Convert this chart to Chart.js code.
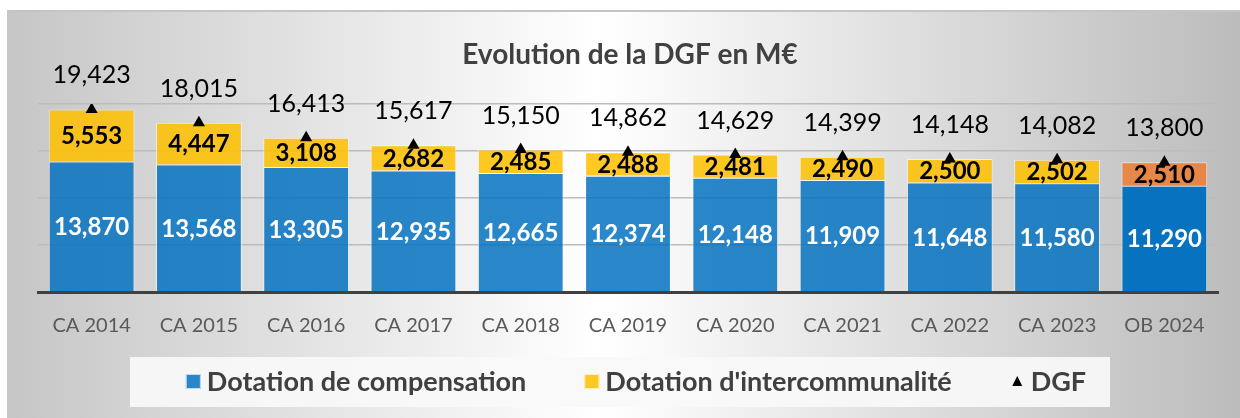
<!DOCTYPE html>
<html>
<head>
<meta charset="utf-8">
<script src="https://cdn.jsdelivr.net/npm/chart.js@4.4.1/dist/chart.umd.min.js"></script>
<style>
  html, body { margin: 0; padding: 0; background: #ffffff; }
  #wrap { width: 1240px; height: 418px; }
</style>
</head>
<body>
<div id="wrap"><canvas id="chart" width="1240" height="418"></canvas></div>
<script>
const categories = ['CA 2014', 'CA 2015', 'CA 2016', 'CA 2017', 'CA 2018', 'CA 2019', 'CA 2020', 'CA 2021', 'CA 2022', 'CA 2023', 'OB 2024'];
const compensation = [13870, 13568, 13305, 12935, 12665, 12374, 12148, 11909, 11648, 11580, 11290];
const intercommunalite = [5553, 4447, 3108, 2682, 2485, 2488, 2481, 2490, 2500, 2502, 2510];
const dgf = [19423, 18015, 16413, 15617, 15150, 14862, 14629, 14399, 14148, 14082, 13800];
const seriesNames = ['Dotation de compensation', "Dotation d'intercommunalité", 'DGF'];
const chartTitle = 'Evolution de la DGF en M€';

const FONT = 'Lato, "Open Sans", sans-serif';
const blue = categories.map((c, i) => i === categories.length - 1 ? 'rgba(0,112,192,0.97)' : 'rgba(0,112,192,0.84)');
const yellow = categories.map((c, i) => i === categories.length - 1 ? 'rgba(237,125,49,0.85)' : 'rgba(255,192,0,0.86)');

const fmt = v => v.toLocaleString('en-US');

// background panel + title + legend
const decor = {
    id: 'decor',
    beforeDraw(chart) {
        const ctx = chart.ctx;
        const w = chart.width, h = chart.height;
        ctx.save();
        ctx.fillStyle = '#ffffff';
        ctx.fillRect(0, 0, w, h);
        const g = ctx.createLinearGradient(7, 0, w, 0);
        g.addColorStop(0, '#c6c6c6');
        g.addColorStop(0.48, '#ffffff');
        g.addColorStop(1, '#bcbcbc');
        ctx.fillStyle = g;
        ctx.fillRect(7, 12, w - 7, h - 12);
        ctx.fillStyle = '#c4c4c4';
        ctx.fillRect(7, 10, w - 7, 2);

        ctx.fillStyle = '#404040';
        ctx.font = 'bold 28px ' + FONT;
        ctx.textAlign = 'center';
        ctx.textBaseline = 'middle';
        ctx.fillText(chartTitle, 630, 55);
        ctx.restore();
    },
    afterDraw(chart) {
        const ctx = chart.ctx;
        ctx.save();
        // legend box
        ctx.fillStyle = 'rgba(248,248,248,0.92)';
        ctx.fillRect(130, 357, 980, 50);
        ctx.font = 'bold 27px ' + FONT;
        ctx.textBaseline = 'middle';
        ctx.textAlign = 'left';
        const cy = 382;
        const items = [
            { text: seriesNames[0], kind: 'box', color: 'rgba(0,112,192,0.84)' },
            { text: seriesNames[1], kind: 'box', color: 'rgba(255,192,0,0.86)' },
            { text: seriesNames[2], kind: 'tri', color: '#000000' }
        ];
        const gap = 58, sym = 15, sp = 6;
        let total = 0;
        items.forEach((it, i) => {
            it.w = ctx.measureText(it.text).width;
            total += sym + sp + it.w + (i ? gap : 0);
        });
        let x = 636 - total / 2;
        items.forEach((it, i) => {
            if (i) x += gap;
            if (it.kind === 'box') {
                ctx.fillStyle = it.color;
                ctx.fillRect(x, cy - 8, sym, sym);
                ctx.strokeStyle = 'rgba(255,255,255,0.7)';
                ctx.lineWidth = 1;
                ctx.strokeRect(x + 0.5, cy - 7.5, sym - 1, sym - 1);
            } else {
                ctx.fillStyle = it.color;
                ctx.beginPath();
                ctx.moveTo(x + sym / 2, cy - 6);
                ctx.lineTo(x + sym / 2 + 5, cy + 4);
                ctx.lineTo(x + sym / 2 - 5, cy + 4);
                ctx.closePath();
                ctx.fill();
            }
            x += sym + sp;
            ctx.fillStyle = '#404040';
            ctx.fillText(it.text, x, cy);
            x += it.w;
        });
        ctx.restore();
    }
};

// value labels
const valueLabels = {
    id: 'valueLabels',
    afterDatasetsDraw(chart) {
        const ctx = chart.ctx;
        ctx.save();
        ctx.textAlign = 'center';
        ctx.textBaseline = 'middle';
        chart.data.datasets.forEach((ds, di) => {
            const meta = chart.getDatasetMeta(di);
            meta.data.forEach((el, i) => {
                const v = ds.data[i];
                if (ds.type === 'line') {
                    ctx.font = '25px ' + FONT;
                    ctx.fillStyle = '#000000';
                    ctx.fillText(fmt(v), el.x, el.y - 34);
                } else {
                    const p = el.getProps(['x', 'y', 'base'], true);
                    ctx.font = 'bold 24px ' + FONT;
                    ctx.fillStyle = ds.label === seriesNames[0] ? '#ffffff' : '#000000';
                    ctx.fillText(fmt(v), p.x, (p.y + p.base) / 2 + 1);
                }
            });
        });
        ctx.restore();
    }
};

new Chart(document.getElementById('chart'), {
    data: {
        labels: categories,
        datasets: [
            {
                type: 'line',
                label: seriesNames[2],
                data: dgf,
                showLine: false,
                pointStyle: 'triangle',
                pointRadius: 7,
                pointBackgroundColor: '#000000',
                pointBorderColor: '#000000',
                pointBorderWidth: 0,
                order: 0
            },
            {
                type: 'bar',
                label: seriesNames[0],
                data: compensation,
                backgroundColor: blue,
                borderColor: 'rgba(255,255,255,0.55)',
                borderWidth: 1,
                categoryPercentage: 0.8,
                barPercentage: 1,
                order: 1
            },
            {
                type: 'bar',
                label: seriesNames[1],
                data: intercommunalite,
                backgroundColor: yellow,
                borderColor: 'rgba(255,255,255,0.55)',
                borderWidth: 1,
                categoryPercentage: 0.8,
                barPercentage: 1,
                order: 1
            }
        ]
    },
    options: {
        responsive: false,
        animation: false,
        events: [],
        layout: { padding: { left: 38, right: 22, top: 104, bottom: 58 } },
        plugins: {
            legend: { display: false },
            title: { display: false },
            tooltip: { enabled: false }
        },
        scales: {
            x: {
                stacked: true,
                grid: { display: false, drawTicks: false },
                border: { display: true, color: '#404040', width: 3 },
                ticks: {
                    color: '#595959',
                    font: { family: FONT, size: 20 },
                    padding: 22,
                    maxRotation: 0
                }
            },
            y: {
                stacked: true,
                min: 0,
                max: 20000,
                grid: { color: '#bcbcbc', lineWidth: 1.5, drawTicks: false },
                border: { display: false },
                ticks: { display: false, stepSize: 5000 }
            }
        }
    },
    plugins: [decor, valueLabels]
});
</script>
</body>
</html>
